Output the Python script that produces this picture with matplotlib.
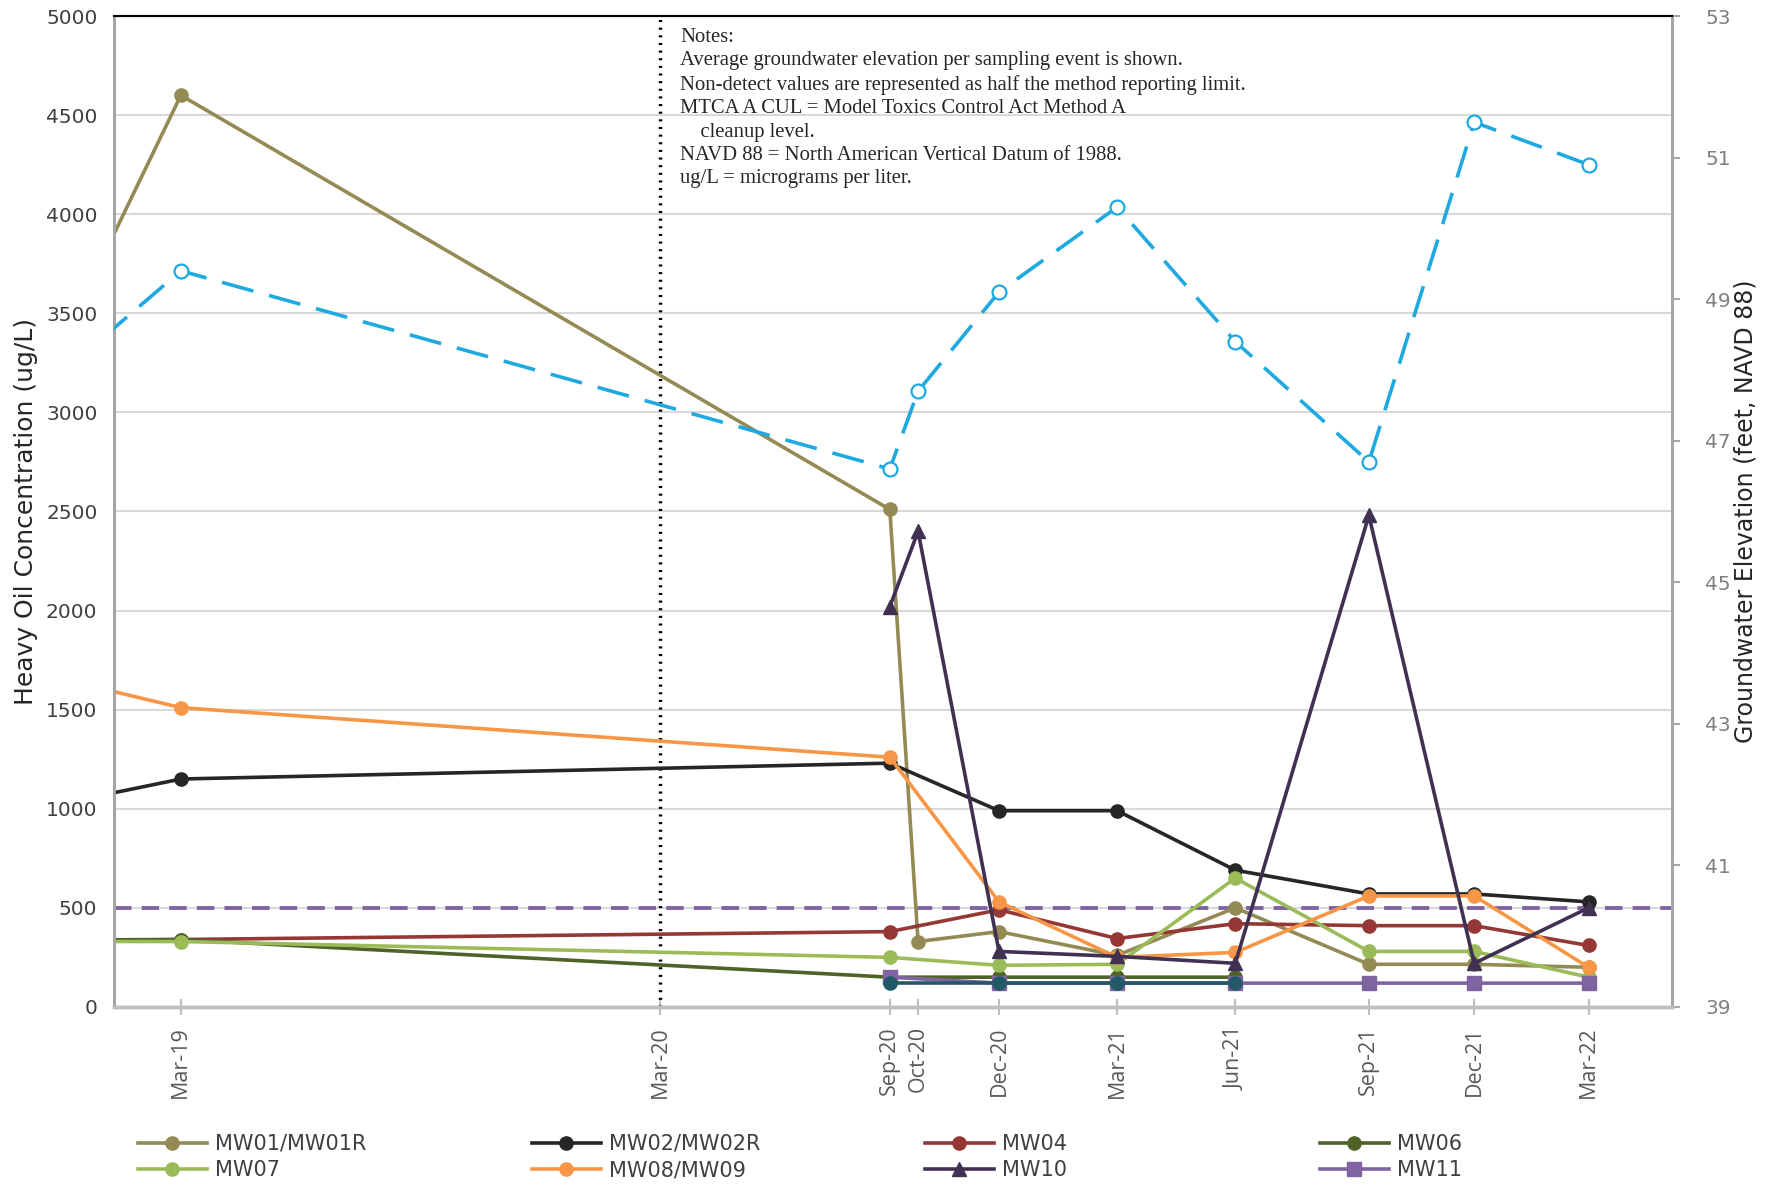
"""Heavy oil concentrations by monitoring well with average groundwater elevation."""

import matplotlib.pyplot as plt
import numpy as np
import pandas as pd

# Sampling events (first one falls before the plotted window)
sample_dates = pd.to_datetime([
    "2018-12-15", "2019-03-15", "2020-09-17", "2020-10-09", "2020-12-11",
    "2021-03-13", "2021-06-13", "2021-09-25", "2021-12-16", "2022-03-15",
])
tick_dates = pd.to_datetime([
    "2019-03-15", "2020-03-22", "2020-09-17", "2020-10-09", "2020-12-11",
    "2021-03-13", "2021-06-13", "2021-09-25", "2021-12-16", "2022-03-15",
])
tick_labels = ["Mar-19", "Mar-20", "Sep-20", "Oct-20", "Dec-20",
               "Mar-21", "Jun-21", "Sep-21", "Dec-21", "Mar-22"]
x_window = pd.to_datetime(["2019-01-22", "2022-05-19"])
divider_date = pd.Timestamp("2020-03-22")

nan = np.nan
# Heavy oil concentration (ug/L); NaN = not sampled
mw01 = [3390, 4600, 2510, 330, 380, 260, 500, 215, 215, 200]
mw02 = [1030, 1150, 1230, nan, 990, 990, 690, 570, 570, 530]
mw04 = [335, 340, 380, nan, 490, 345, 420, 410, 410, 310]
mw06 = [338, 340, 150, nan, 150, 150, 150, nan, nan, nan]
mw07 = [330, 330, 250, nan, 210, 215, 650, 280, 280, 150]
mw08 = [1650, 1510, 1260, nan, 530, 250, 275, 560, 560, 200]
mw10 = [nan, nan, 2020, 2400, 280, 255, 220, 2480, 220, 500]
mw11 = [nan, nan, 150, nan, 120, 120, 120, 120, 120, 120]
mw_extra = [nan, nan, 120, nan, 120, 120, 120, nan, nan, nan]

# Average groundwater elevation (feet, NAVD 88)
gw_elev = [48.0, 49.4, 46.6, 47.7, 49.1, 50.3, 48.4, 46.7, 51.5, 50.9]

mtca_cul = 500

series = [
    ("MW01/MW01R", mw01, "#948A54", "o"),
    ("MW02/MW02R", mw02, "#262626", "o"),
    ("MW04", mw04, "#953735", "o"),
    ("MW06", mw06, "#4F6228", "o"),
    ("MW07", mw07, "#9BBB59", "o"),
    ("MW08/MW09", mw08, "#F79646", "o"),
    ("MW10", mw10, "#403152", "^"),
    ("MW11", mw11, "#8064A2", "s"),
    ("_nolegend_", mw_extra, "#215968", "o"),
]

notes = (
    "Notes:\n"
    "Average groundwater elevation per sampling event is shown.\n"
    "Non-detect values are represented as half the method reporting limit.\n"
    "MTCA A CUL = Model Toxics Control Act Method A\n"
    "    cleanup level.\n"
    "NAVD 88 = North American Vertical Datum of 1988.\n"
    "ug/L = micrograms per liter."
)

fig = plt.figure(figsize=(17.74, 11.86), dpi=100)
ax = fig.add_axes([0.0643, 0.151, 0.8782, 0.8355])

ax.set_ylim(0, 5000)
ax.set_yticks(np.arange(0, 5001, 500))
ax.set_xlim(x_window[0], x_window[1])
ax.grid(axis="y", color="#D9D9D9", lw=1.5, zorder=0)
ax.set_axisbelow(True)

ax.axhline(mtca_cul, color="#8064A2", lw=2.8, ls=(0, (4.5, 2.6)), zorder=2)
ax.axvline(divider_date, color="black", lw=2.5, ls=(0, (0.6, 1.6)), zorder=2)

handles = []
for label, values, color, marker in series:
    vals = np.array(values, dtype=float)
    mask = ~np.isnan(vals)
    (h,) = ax.plot(sample_dates[mask], vals[mask], color=color, lw=2.6,
                   marker=marker, markersize=9.5 if marker != "^" else 10,
                   label=label, zorder=3, clip_on=True)
    if not label.startswith("_"):
        handles.append(h)

ax2 = ax.twinx()
ax2.set_ylim(39, 53)
ax2.set_yticks(np.arange(39, 54, 2))
ax2.plot(sample_dates, gw_elev, color="#1FA9E1", lw=2.6, ls=(0, (9, 4.5)),
         marker="o", markersize=10, markerfacecolor="white",
         markeredgecolor="#1FA9E1", markeredgewidth=1.6, zorder=4)

# Axis styling
for a in (ax, ax2):
    a.spines["top"].set_color("black")
    a.spines["top"].set_linewidth(1.5)
    a.spines["left"].set_color("#A6A6A6")
    a.spines["left"].set_linewidth(2)
    a.spines["right"].set_color("#A6A6A6")
    a.spines["right"].set_linewidth(2)
    a.spines["bottom"].set_color("#BFBFBF")
    a.spines["bottom"].set_linewidth(2.5)

ax.set_xticks(tick_dates)
ax.set_xticklabels(tick_labels, rotation=90, fontsize=15.5,
                   family="Open Sans", color="#595959")
ax.tick_params(axis="x", direction="inout", length=12, width=1.5,
               color="#BFBFBF", pad=8)
ax.tick_params(axis="y", length=0, labelsize=14.5, labelcolor="#404040", pad=12)
ax2.tick_params(axis="y", direction="out", length=6, width=1.5,
                color="#A6A6A6", labelsize=14.5, labelcolor="#7F7F7F", pad=18)

ax.set_ylabel("Heavy Oil Concentration (ug/L)", fontsize=18, color="#262626",
              labelpad=6)
ax2.set_ylabel("Groundwater Elevation (feet, NAVD 88)", fontsize=17,
               color="#262626", labelpad=2)

fig.text(680 / 1774, 1 - 28 / 1186, notes, family="Liberation Serif",
         fontsize=14.9, color="#262626", va="top", ha="left", linespacing=1.31)

# Legend laid out as four fixed-width columns
col_x = [138, 532, 925, 1320]
for i, x in enumerate(col_x):
    col_handles = [handles[i], handles[i + 4]]
    leg = fig.legend(handles=col_handles, loc="center left",
                     bbox_to_anchor=(x / 1774, 0.0245), frameon=False,
                     fontsize=15, handlelength=3.3, handletextpad=0.4,
                     labelspacing=0.3, borderpad=0, borderaxespad=0)
    for t in leg.get_texts():
        t.set_color("#404040")

fig.savefig("out.png", dpi=100)
